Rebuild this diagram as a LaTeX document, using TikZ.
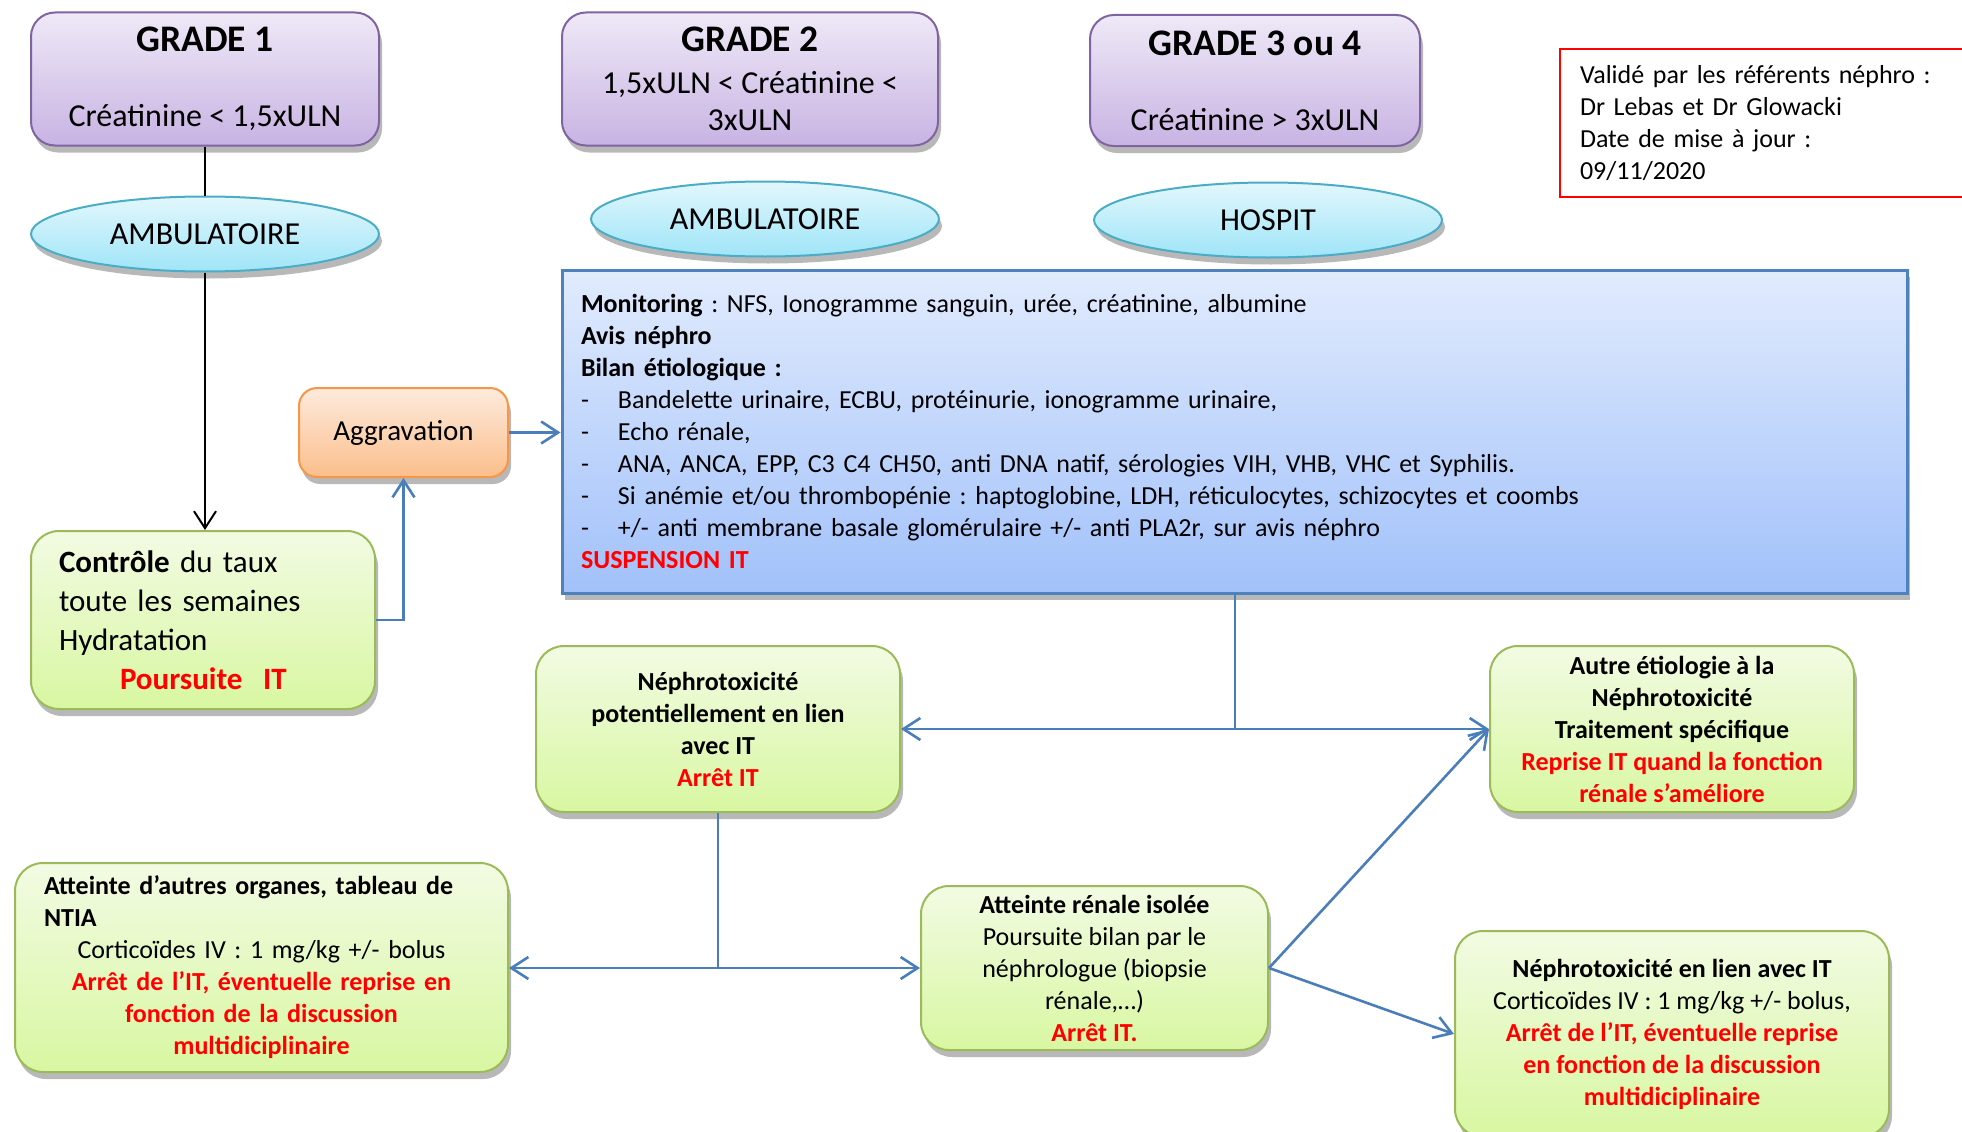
\documentclass[tikz,border=0pt]{standalone}
\usepackage{fontspec}
\setmainfont{Carlito}
\frenchspacing
\usetikzlibrary{shapes.geometric,shadows,arrows.meta}
\definecolor{purpB}{HTML}{8064A2}
\definecolor{purpT}{HTML}{EFE9F7}
\definecolor{purpD}{HTML}{C8B3E3}
\definecolor{cyanB}{HTML}{4BACC6}
\definecolor{cyanT}{HTML}{E2F7FC}
\definecolor{cyanD}{HTML}{9FE5F8}
\definecolor{bluB}{HTML}{4F81BD}
\definecolor{bluT}{HTML}{E1EBFD}
\definecolor{bluD}{HTML}{A1C1FA}
\definecolor{orB}{HTML}{F79646}
\definecolor{orT}{HTML}{FDEBDD}
\definecolor{orD}{HTML}{FBBE8B}
\definecolor{grB}{HTML}{9BBB59}
\definecolor{grT}{HTML}{F2FBE3}
\definecolor{grD}{HTML}{D8F7A1}
\definecolor{conn}{HTML}{4A7EBB}
\definecolor{redT}{HTML}{FF0000}
\newcommand\ftitle{\fontsize{37.5}{44}\selectfont}
\newcommand\fmid{\fontsize{32}{37}\selectfont}
\newcommand\fagg{\fontsize{29}{37}\selectfont}
\newcommand\fctrl{\fontsize{31}{39}\selectfont}
\newcommand\fbody{\fontsize{26}{32}\selectfont}
\newcommand\dashitem{\makebox[37pt][l]{-}}
\newcommand\rtxt[1]{{\color{redT}\bfseries #1}}
\tikzset{
  shad/.style={drop shadow={shadow xshift=3pt,shadow yshift=-7pt,fill=black,opacity=0.28}},
  purpbox/.style={shad,draw=purpB,line width=2pt,rounded corners=24pt,top color=purpT,bottom color=purpD,align=center,inner sep=0pt,font=\fmid},
  ellbox/.style={shad,ellipse,draw=cyanB,line width=2pt,top color=cyanT,bottom color=cyanD,inner sep=0pt,minimum width=348pt,minimum height=75pt,font=\fmid},
  blubox/.style={shad,draw=bluB,line width=3pt,top color=bluT,bottom color=bluD,align=left,inner xsep=19pt,inner ysep=0pt,font=\fbody},
  orbox/.style={shad,draw=orB,line width=2pt,rounded corners=18pt,top color=orT,bottom color=orD,inner sep=0pt,font=\fagg},
  grbox/.style={shad,draw=grB,line width=2pt,rounded corners=28pt,top color=grT,bottom color=grD,inner sep=0pt,font=\fbody,align=center},
  redbox/.style={draw=redT,line width=2pt,align=left,inner xsep=20pt,inner ysep=0pt,font=\fbody},
  blk/.style={draw=black,line width=2pt},
  blu/.style={draw=conn,line width=2.6pt},
  tip/.style={-{Straight Barb[length=17pt,width=22pt]}}
}
\begin{document}
\begin{tikzpicture}[x=1pt,y=-1pt]
\useasboundingbox (0,0) rectangle (1962,1132);
% grade boxes
\node[purpbox,minimum width=348pt,minimum height=133pt] (g1) at (205,79)
  {{\ftitle\bfseries GRADE 1}\\[38pt]Créatinine < 1,5xULN};
\node[purpbox,minimum width=376pt,minimum height=133pt] (g2) at (750,79)
  {{\ftitle\bfseries GRADE 2}\\[5pt]1,5xULN < Créatinine <\\3xULN};
\node[purpbox,minimum width=330pt,minimum height=131pt] (g3) at (1255,80.5)
  {{\ftitle\bfseries GRADE 3 ou 4}\\[38pt]Créatinine > 3xULN};
% red box
\node[redbox,anchor=north west,minimum width=440pt,minimum height=148pt,text width=400pt] (valid) at (1559,48)
  {Validé par les référents néphro :\\Dr Lebas et Dr Glowacki\\Date de mise à jour :\\09/11/2020};
% ellipses
\node[ellbox] (amb1) at (205,234) {AMBULATOIRE};
\node[ellbox] (amb2) at (765,219) {AMBULATOIRE};
\node[ellbox] (hosp) at (1268,220) {HOSPIT};
% blue box
\node[blubox,minimum width=1345pt,minimum height=323pt,text width=1307pt] (blue) at (1234.5,431.5)
  {\textbf{Monitoring} : NFS, Ionogramme sanguin, urée, créatinine, albumine\\
   \textbf{Avis néphro}\\
   \textbf{Bilan étiologique :}\\
   \dashitem Bandelette urinaire, ECBU, protéinurie, ionogramme urinaire,\\
   \dashitem Echo rénale,\\
   \dashitem ANA, ANCA, EPP, C3 C4 CH50, anti DNA natif, sérologies VIH, VHB, VHC et Syphilis.\\
   \dashitem Si anémie et/ou thrombopénie : haptoglobine, LDH, réticulocytes, schizocytes et coombs\\
   \dashitem +/- anti membrane basale glomérulaire +/- anti PLA2r, sur avis néphro\\
   \rtxt{SUSPENSION IT}};
% aggravation
\node[orbox,minimum width=209pt,minimum height=89pt] (aggr) at (403.5,432.5) {Aggravation};
% controle
\node[grbox,align=left,font=\fctrl,minimum width=344pt,minimum height=178pt,text width=288pt,inner xsep=28pt] (ctrl) at (203,620)
  {\textbf{Contrôle} du taux\\toute les semaines\\Hydratation\\\hspace*{61pt}\rtxt{Poursuite\ \ IT}};
% green boxes
\node[grbox,minimum width=364pt,minimum height=166pt] (npot) at (718,729)
  {\bfseries Néphrotoxicité\\\bfseries potentiellement en lien\\\bfseries avec IT\\\rtxt{Arrêt IT}};
\node[grbox,minimum width=364pt,minimum height=166pt] (autre) at (1672,729)
  {\bfseries Autre étiologie à la\\\bfseries Néphrotoxicité\\\bfseries Traitement spécifique\\\rtxt{Reprise IT quand la fonction}\\\rtxt{rénale s’améliore}};
\node[grbox,minimum width=493pt,minimum height=209pt,text width=435pt,inner xsep=29pt] (autres) at (261.5,967.5)
  {\raggedright\textbf{Atteinte d’autres organes, tableau de}\\\textbf{NTIA}\\
   \centering Corticoïdes IV : 1 mg/kg +/- bolus\\\rtxt{Arrêt de l’IT, éventuelle reprise en}\\\rtxt{fonction de la discussion}\\\rtxt{multidiciplinaire}};
\node[grbox,minimum width=347pt,minimum height=164pt] (renale) at (1094.5,968)
  {\textbf{Atteinte rénale isolée}\\Poursuite bilan par le\\néphrologue (biopsie\\rénale,…)\\\rtxt{Arrêt IT.}};
\node[grbox,minimum width=434pt,minimum height=206pt] (lien) at (1672,1034)
  {\textbf{Néphrotoxicité en lien avec IT}\\Corticoïdes IV : 1 mg/kg +/- bolus,\\\rtxt{Arrêt de l’IT, éventuelle reprise}\\\rtxt{en fonction de la discussion}\\\rtxt{multidiciplinaire}};
% connectors
\draw[blk] (g1.south) -- (amb1.north);
\draw[blk,-{Straight Barb[length=17pt,width=22pt]}] (amb1.south) -- (amb1.south |- ctrl.north);
\draw[blu,tip] (ctrl.east) -| (aggr.south);
\draw[blu,tip] (aggr.east) -- (blue.west |- aggr.east);
\coordinate (j1) at (1235,729);
\draw[blu] (blue.south -| j1) -- (j1);
\draw[blu,tip] (j1) -- (npot.east);
\draw[blu,tip] (j1) -- (autre.west);
\coordinate (j2) at (npot.south |- renale.west);
\draw[blu] (npot.south) -- (j2);
\draw[blu,tip] (j2) -- (autres.east |- j2);
\draw[blu,tip] (j2) -- (renale.west);
\draw[blu,tip] (renale.east) -- (autre.west);
\draw[blu,tip] (renale.east) -- (lien.west);
\end{tikzpicture}
\end{document}
